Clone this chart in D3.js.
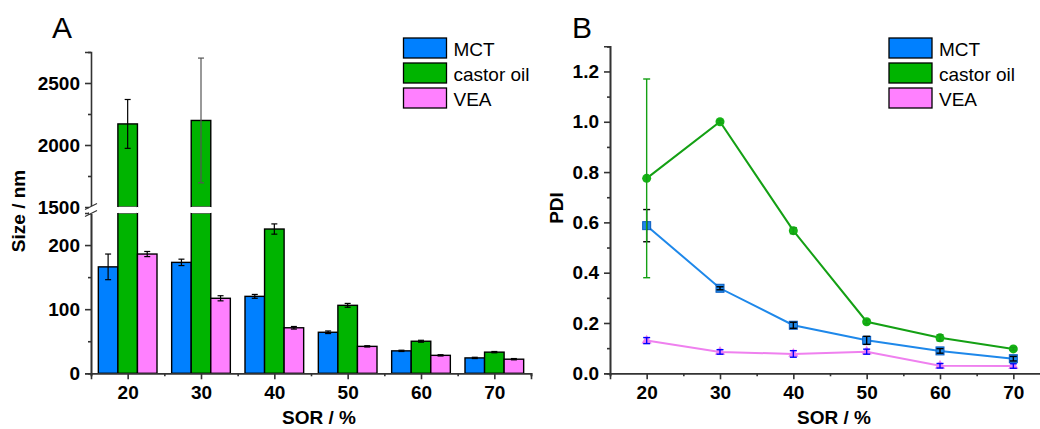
<!DOCTYPE html>
<html><head><meta charset="utf-8">
<script src="https://cdn.jsdelivr.net/npm/d3@7"></script>
<style>body{margin:0;background:#fff}svg{display:block}text{font-family:"Liberation Sans",Arial,sans-serif}</style>
</head><body>
<svg id="c" width="1040" height="429"></svg>
<script>
const categories = [20, 30, 40, 50, 60, 70];
const seriesNames = ["MCT", "castor oil", "VEA"];
const sizeMCT = [166, 173, 120, 64, 35, 24];
const sizeMCTErr = [20, 5, 3, 2, 1, 1];
const sizeCastor = [2170, 2198, 225, 106, 50, 33];
const sizeCastorErr = [197, 503, 8, 3, 1.5, 1];
const sizeVEA = [186, 117, 71, 42, 28, 22];
const sizeVEAErr = [4, 4, 2, 1, 1, 1];
const pdiMCT = [0.587, 0.338, 0.191, 0.131, 0.089, 0.058];
const pdiMCTErr = [0.064, 0.006, 0.012, 0.016, 0.009, 0.009];
const pdiCastor = [0.775, 1.0, 0.567, 0.205, 0.141, 0.097];
const pdiCastorErr = [0.395, 0.005, 0.012, 0.008, 0.012, 0.006];
const pdiVEA = [0.13, 0.085, 0.077, 0.086, 0.030, 0.029];
const pdiVEAErr = [0.012, 0.009, 0.013, 0.01, 0.009, 0.009];
const lowerTicks = [0, 100, 200];
const lowerMinor = [50, 150, 250];
const upperTicks = [1500, 2000, 2500];
const upperMinor = [1750, 2250, 2750];
const pdiTicks = [0, 0.2, 0.4, 0.6, 0.8, 1.0, 1.2];
const pdiMinor = [0.1, 0.3, 0.5, 0.7, 0.9, 1.1, 1.3];
const xMinor = [15, 25, 35, 45, 55, 65, 75];

const barFill = ["#0080ff", "#00b400", "#ff80ff"];
const lineCol = ["#1e88ea", "#14a014", "#ef80ef"];
const errCol = ["#000", "#14a014", "#0000ff"];
const axisCol = "#333";

const svg = d3.select("#c");

function styleAxis(g, fs) {
  g.select(".domain").attr("stroke", axisCol).attr("stroke-width", 1.6);
  g.selectAll(".tick line").attr("stroke", axisCol).attr("stroke-width", 1.6);
  g.selectAll(".tick text").attr("fill", "#000").attr("font-size", fs || 19).attr("font-weight", "bold")
    .attr("font-family", "Liberation Sans, Arial, sans-serif");
}

// ---------- Panel A ----------
const xA = d3.scaleLinear().domain([15, 75]).range([91, 531]);
const yLow = d3.scaleLinear().domain([0, 250]).range([373.3, 213]);
const yUp = d3.scaleLinear().domain([1500, 2750]).range([207, 52]);
const step = xA(30) - xA(20);
const groupW = step * 0.8, barW = groupW / 3;
const sizeVals = [sizeMCT, sizeCastor, sizeVEA];
const sizeErrs = [sizeMCTErr, sizeCastorErr, sizeVEAErr];

const gA = svg.append("g");
sizeVals.forEach((vals, si) => {
  vals.forEach((v, i) => {
    const x0 = xA(categories[i]) - groupW / 2 + si * barW;
    if (v <= 250) {
      gA.append("rect").attr("x", x0).attr("y", yLow(v)).attr("width", barW).attr("height", yLow(0) - yLow(v))
        .attr("fill", barFill[si]).attr("stroke", "#000").attr("stroke-width", 1.4);
    } else {
      gA.append("rect").attr("x", x0).attr("y", yLow(250)).attr("width", barW).attr("height", yLow(0) - yLow(250) + 0.01)
        .attr("fill", barFill[si]).attr("stroke", "#000").attr("stroke-width", 1.4);
      gA.append("rect").attr("x", x0).attr("y", yUp(v)).attr("width", barW).attr("height", yUp(1500) - yUp(v))
        .attr("fill", barFill[si]).attr("stroke", "#000").attr("stroke-width", 1.4);
    }
  });
});
sizeVals.forEach((vals, si) => {
  vals.forEach((v, i) => {
    if (v > 250) {
      const x0 = xA(categories[i]) - groupW / 2 + si * barW;
      gA.append("rect").attr("x", x0 + 0.7).attr("y", yUp(1500) - 0.3).attr("width", barW - 1.4)
        .attr("height", yLow(250) - yUp(1500) + 0.6).attr("fill", "#fff");
      gA.append("line").attr("x1", x0).attr("x2", x0).attr("y1", yUp(1500)).attr("y2", yLow(250)).attr("stroke", "#fff").attr("stroke-width", 2);
      gA.append("line").attr("x1", x0 + barW).attr("x2", x0 + barW).attr("y1", yUp(1500)).attr("y2", yLow(250)).attr("stroke", "#fff").attr("stroke-width", 2);
    }
  });
});
sizeVals.forEach((vals, si) => {
  vals.forEach((v, i) => {
    const e = sizeErrs[si][i];
    const cx = xA(categories[i]) - groupW / 2 + (si + 0.5) * barW;
    const ys = v > 250 ? yUp : yLow;
    const col = (si === 1 && i === 1) ? "#555" : "#000";
    const g = gA.append("g").attr("stroke", col).attr("stroke-width", 1.2);
    g.append("line").attr("x1", cx).attr("x2", cx).attr("y1", ys(v - e)).attr("y2", ys(v + e));
    g.append("line").attr("x1", cx - 3).attr("x2", cx + 3).attr("y1", ys(v - e)).attr("y2", ys(v - e));
    g.append("line").attr("x1", cx - 3).attr("x2", cx + 3).attr("y1", ys(v + e)).attr("y2", ys(v + e));
  });
});

const axA = svg.append("g").attr("transform", `translate(0,${yLow(0)})`)
  .call(d3.axisBottom(xA).tickValues(categories).tickSize(6).tickPadding(6).tickFormat(d3.format("d")));
styleAxis(axA);
const axAm = svg.append("g").attr("transform", `translate(0,${yLow(0)})`)
  .call(d3.axisBottom(xA).tickValues(xMinor).tickSize(3).tickFormat(""));
styleAxis(axAm);
const ayLow = svg.append("g").attr("transform", `translate(${xA(15)},0)`)
  .call(d3.axisLeft(yLow).tickValues(lowerTicks).tickSize(6).tickPadding(5).tickFormat(d3.format("d")));
styleAxis(ayLow);
const ayLowM = svg.append("g").attr("transform", `translate(${xA(15)},0)`)
  .call(d3.axisLeft(yLow).tickValues(lowerMinor).tickSize(3).tickFormat(""));
styleAxis(ayLowM);
const ayUp = svg.append("g").attr("transform", `translate(${xA(15)},0)`)
  .call(d3.axisLeft(yUp).tickValues(upperTicks).tickSize(6).tickPadding(5).tickFormat(d3.format("d")));
styleAxis(ayUp);
ayUp.selectAll(".tick").filter(d => d === 1500).select("line").remove();
const ayUpM = svg.append("g").attr("transform", `translate(${xA(15)},0)`)
  .call(d3.axisLeft(yUp).tickValues(upperMinor).tickSize(3).tickFormat(""));
styleAxis(ayUpM);
ayUpM.select(".domain").remove();
svg.append("rect").attr("x", xA(15) - 2).attr("y", yUp(1500) - 1).attr("width", 4).attr("height", yLow(250) - yUp(1500) + 2).attr("fill", "#fff");
[yUp(1500) - 0.5, yLow(250) + 0.5].forEach(yy => {
  svg.append("line").attr("x1", xA(15) - 6).attr("x2", xA(15) + 6).attr("y1", yy + 3).attr("y2", yy - 3)
    .attr("stroke", axisCol).attr("stroke-width", 1.2);
});

svg.append("text").attr("x", 319).attr("y", 424).attr("text-anchor", "middle").attr("font-size", 19).attr("font-weight", "bold").text("SOR / %");
svg.append("text").attr("transform", "translate(25,211) rotate(-90)").attr("text-anchor", "middle").attr("font-size", 19).attr("font-weight", "bold").text("Size / nm");
svg.append("text").attr("x", 52).attr("y", 38).attr("font-size", 30).text("A");

function legend(x, y) {
  seriesNames.forEach((n, i) => {
    svg.append("rect").attr("x", x).attr("y", y + i * 25).attr("width", 43).attr("height", 20)
      .attr("fill", barFill[i]).attr("stroke", "#000").attr("stroke-width", 1.3);
    svg.append("text").attr("x", x + 50).attr("y", y + i * 25 + 17.5).attr("font-size", 19).attr("fill", "#000").text(n);
  });
}
legend(403.5, 38);

// ---------- Panel B ----------
const xB = d3.scaleLinear().domain([15, 75]).range([610, 1050]);
const yB = d3.scaleLinear().domain([0, 1.3]).range([373.3, 46.3]);
const pdiVals = [pdiMCT, pdiCastor, pdiVEA];
const pdiErrs = [pdiMCTErr, pdiCastorErr, pdiVEAErr];

const axB = svg.append("g").attr("transform", `translate(0,${yB(0)})`)
  .call(d3.axisBottom(xB).tickValues(categories).tickSize(6).tickPadding(6).tickFormat(d3.format("d")));
styleAxis(axB);
const axBm = svg.append("g").attr("transform", `translate(0,${yB(0)})`)
  .call(d3.axisBottom(xB).tickValues(xMinor).tickSize(3).tickFormat(""));
styleAxis(axBm);
const ayB = svg.append("g").attr("transform", `translate(${xB(15)},0)`)
  .call(d3.axisLeft(yB).tickValues(pdiTicks).tickSize(6).tickPadding(5).tickFormat(d3.format(".1f")));
styleAxis(ayB);
const ayBm = svg.append("g").attr("transform", `translate(${xB(15)},0)`)
  .call(d3.axisLeft(yB).tickValues(pdiMinor).tickSize(3).tickFormat(""));
styleAxis(ayBm);

const line = d3.line().x((d, i) => xB(categories[i])).y(d => yB(d));
const order = [2, 0, 1];
order.forEach(si => {
  svg.append("path").datum(pdiVals[si]).attr("d", line).attr("fill", "none").attr("stroke", lineCol[si]).attr("stroke-width", 2);
});
order.forEach(si => {
  const g = svg.append("g");
  pdiVals[si].forEach((v, i) => {
    const cx = xB(categories[i]), cy = yB(v);
    if (si === 0) {
      g.append("rect").attr("x", cx - 4).attr("y", cy - 4).attr("width", 8).attr("height", 8)
        .attr("fill", "#1e88ea").attr("stroke", "#0a5cc0").attr("stroke-width", 1);
    } else if (si === 1) {
      g.append("circle").attr("cx", cx).attr("cy", cy).attr("r", 4.5).attr("fill", "#14b414");
    } else {
      const sym = d3.symbol().type(d3.symbolTriangle).size(45);
      g.append("path").attr("d", sym()).attr("transform", `translate(${cx},${cy})`).attr("fill", "#f080f0");
    }
    const e = pdiErrs[si][i];
    const eg = g.append("g").attr("stroke", errCol[si]).attr("stroke-width", 1.4);
    eg.append("line").attr("x1", cx).attr("x2", cx).attr("y1", yB(v - e)).attr("y2", yB(v + e));
    eg.append("line").attr("x1", cx - 3.5).attr("x2", cx + 3.5).attr("y1", yB(v - e)).attr("y2", yB(v - e));
    eg.append("line").attr("x1", cx - 3.5).attr("x2", cx + 3.5).attr("y1", yB(v + e)).attr("y2", yB(v + e));
  });
});

svg.append("text").attr("x", 834).attr("y", 424).attr("text-anchor", "middle").attr("font-size", 19).attr("font-weight", "bold").text("SOR / %");
svg.append("text").attr("transform", "translate(563,208) rotate(-90)").attr("text-anchor", "middle").attr("font-size", 19).attr("font-weight", "bold").text("PDI");
svg.append("text").attr("x", 572).attr("y", 38).attr("font-size", 30).text("B");
legend(889, 38);
</script>
</body></html>
